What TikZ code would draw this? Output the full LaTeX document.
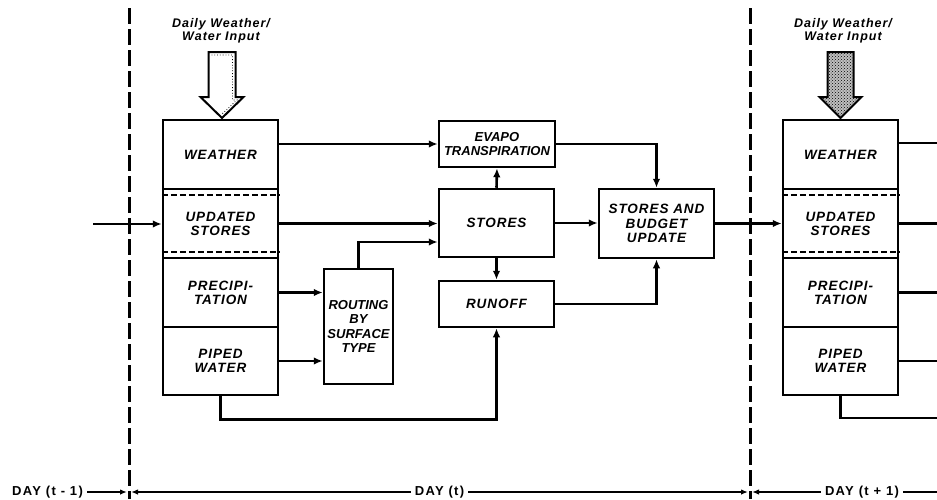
\documentclass[tikz,border=0pt]{standalone}
\usepackage{fontspec}
\setmainfont{Liberation Sans}
\newfontfamily\bxfont{Liberation Sans}[LetterSpace=7]
\newfontfamily\bxnarrow{Liberation Sans}
\newfontfamily\inpfont{Liberation Sans}[LetterSpace=8]
\newfontfamily\dayfont{Liberation Sans}[LetterSpace=10]
\usetikzlibrary{arrows.meta,calc,patterns}
\begin{document}
\begin{tikzpicture}[x=1pt,y=-1pt,
  sec/.style={draw,line width=2.5pt,inner sep=0pt,align=center,
    font=\bxfont\bfseries\itshape\fontsize{13.5}{14}\selectfont},
  secn/.style={sec,font=\bxnarrow\bfseries\itshape\fontsize{13}{14.5}\selectfont},
  conn/.style={line width=2.6pt,-{Latex[length=9pt,width=7.5pt]}},
  plainline/.style={line width=2.6pt},
  innerdash/.style={line width=1.6pt,dash pattern=on 6pt off 3pt},
  divider/.style={line width=3pt,dash pattern=on 16pt off 5pt},
  tl/.style={line width=1.6pt},
  tlarr/.style={line width=1.6pt,-{Latex[length=7pt,width=5.5pt]}},
  daylbl/.style={inner sep=4pt,font=\dayfont\bfseries\fontsize{13}{14}\selectfont},
  inplbl/.style={align=center,inner sep=0pt,font=\inpfont\bfseries\itshape\fontsize{12.5}{13.5}\selectfont},
  blockarrow/.style={line width=2pt,line join=miter}
]
\fill[white] (0,0) rectangle (937,499);
\useasboundingbox (0,0) rectangle (937,499);

% --- day dividers
\coordinate (dLt) at (129,8);
\coordinate (dLb) at (129,499);
\coordinate (dRt) at (750,8);
\coordinate (dRb) at (750,499);
\draw[divider] (dLt) -- (dLb);
\draw[divider] (dRt) -- (dRb);

% --- left column
\node[sec,minimum width=115pt,minimum height=69pt] (wL)  at (220.5,154.5) {WEATHER};
\node[sec,minimum width=115pt,minimum height=69pt] (usL) at (220.5,223.5) {UPDATED\\STORES};
\node[sec,minimum width=115pt,minimum height=69pt] (prL) at (220.5,292.5) {PRECIPI-\\TATION};
\node[sec,minimum width=115pt,minimum height=68pt] (piL) at (220.5,361)   {PIPED\\WATER};
\draw[innerdash] ([yshift=-7pt]usL.north west) -- ([yshift=-7pt]usL.north east);
\draw[innerdash] ([yshift=7pt]usL.south west) -- ([yshift=7pt]usL.south east);

% --- right column
\node[sec,minimum width=115pt,minimum height=69pt] (wR)  at (840.5,154.5) {WEATHER};
\node[sec,minimum width=115pt,minimum height=69pt] (usR) at (840.5,223.5) {UPDATED\\STORES};
\node[sec,minimum width=115pt,minimum height=69pt] (prR) at (840.5,292.5) {PRECIPI-\\TATION};
\node[sec,minimum width=115pt,minimum height=68pt] (piR) at (840.5,361)   {PIPED\\WATER};
\draw[innerdash] ([yshift=-7pt]usR.north west) -- ([yshift=-7pt]usR.north east);
\draw[innerdash] ([yshift=7pt]usR.south west) -- ([yshift=7pt]usR.south east);

% --- middle boxes
\node[secn,minimum width=116pt,minimum height=46pt] (ev) at (497,144) {EVAPO\\TRANSPIRATION};
\node[sec,minimum width=115pt,minimum height=68pt] (st) at (496.5,223) {STORES};
\node[sec,minimum width=115pt,minimum height=46pt] (ro) at (496.5,304) {RUNOFF};
\node[sec,minimum width=115pt,minimum height=69pt,font=\bxfont\bfseries\itshape\fontsize{13.5}{14.5}\selectfont] (bu) at (656.5,223.5) {STORES AND\\BUDGET\\UPDATE};
\node[secn,minimum width=69pt,minimum height=115pt] (rt) at (358.5,326.5) {ROUTING\\BY\\SURFACE\\TYPE};

% --- input arrows
\coordinate (inA) at (222,52);
\coordinate (inB) at (840.5,52);
\node[inplbl] (lblA) at (221,31) {Daily Weather/\\Water Input};
\node[inplbl] (lblB) at (843,31) {Daily Weather/\\Water Input};
\begin{scope}[shift={(inA)}]
  \draw[blockarrow,fill=white] (-13.5,0) -- (13.5,0) -- (13.5,45) -- (21.5,45) -- (0,66) -- (-21.5,45) -- (-13.5,45) -- cycle;
  \draw[line width=0.8pt,dotted] (-10.5,3) -- (10.5,3) -- (10.5,48) -- (15,48) -- (0,62);
\end{scope}
\begin{scope}[shift={(inB)}]
  \fill[black!25] (-13,0) -- (13,0) -- (13,45) -- (21,45) -- (0,66) -- (-21,45) -- (-13,45) -- cycle;
  \fill[pattern=crosshatch dots] (-13,0) -- (13,0) -- (13,45) -- (21,45) -- (0,66) -- (-21,45) -- (-13,45) -- cycle;
  \draw[blockarrow] (-13,0) -- (13,0) -- (13,45) -- (21,45) -- (0,66) -- (-21,45) -- (-13,45) -- cycle;
\end{scope}

% --- connectors (left day)
\coordinate (inL) at (93,224);
\draw[conn] (inL) -- (inL -| usL.west);
\draw[conn] (ev.west -| wL.east) -- (ev.west);
\draw[conn] (usL.east) -- (usL.east -| st.west);
\draw[conn] (prL.east) -- (prL.east -| rt.west);
\draw[conn] (piL.east) -- (piL.east -| rt.west);
\coordinate (rtin) at ($(st.west)+(0,19)$);
\draw[conn] (rt.north) |- (rtin);
\draw[conn] (piL.south) -- ++(0,23) -| (ro.south);
\draw[conn] (st.north) -- (ev.south);
\draw[conn] (st.south) -- (ro.north);
\draw[conn] (st.east) -- (st.east -| bu.west);
\draw[conn] (ev.east) -| (bu.north);
\draw[conn] (ro.east) -| (bu.south);
\draw[conn] (bu.east) -- (bu.east -| usR.west);

% --- connectors leaving right column
\coordinate (ew) at (937,143);
\coordinate (edge) at (937,0);
\coordinate (eb) at (937,418);
\draw[plainline] (ew -| wR.east) -- (ew);
\draw[plainline] (usR.east) -- (usR.east -| edge);
\draw[plainline] (prR.east) -- (prR.east -| edge);
\draw[plainline] (piR.east) -- (piR.east -| edge);
\draw[plainline] (piR.south) |- (eb);

% --- time line
\node[daylbl] (d0) at (47.5,492) {DAY (t - 1)};
\node[daylbl] (d1) at (439.5,492) {DAY (t)};
\node[daylbl] (d2) at (862,492) {DAY (t + 1)};
\coordinate (t0r) at (127,492);
\coordinate (t1l) at (131,492);
\coordinate (t1r) at (748,492);
\coordinate (t2l) at (752,492);
\coordinate (tend) at (937,492);
\draw[tlarr] (d0.east) -- (t0r);
\draw[tlarr] (d1.west) -- (t1l);
\draw[tlarr] (d1.east) -- (t1r);
\draw[tlarr] (d2.west) -- (t2l);
\draw[tl] (d2.east) -- (tend);
\end{tikzpicture}
\end{document}
